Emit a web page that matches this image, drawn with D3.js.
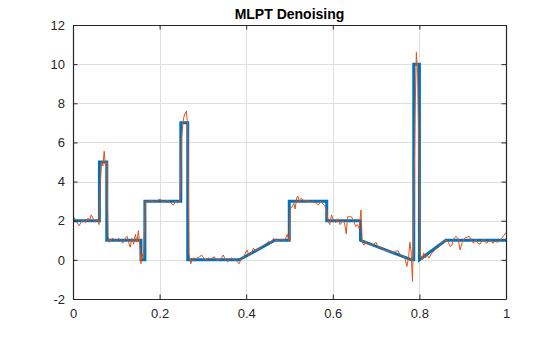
<!DOCTYPE html>
<html>
<head>
<meta charset="utf-8">
<script src="https://cdn.jsdelivr.net/npm/d3@7"></script>
<style>
  html, body { margin: 0; padding: 0; background: #fff; }
  svg { display: block; font-family: "Liberation Sans", Arial, Helvetica, sans-serif; }
</style>
</head>
<body>
<svg id="chart" width="560" height="337"></svg>
<script>
// ---------- data ----------
const title = "MLPT Denoising";
const xTicks = [0, 0.2, 0.4, 0.6, 0.8, 1];
const xTickLabels = ["0", "0.2", "0.4", "0.6", "0.8", "1"];
const yTicks = [-2, 0, 2, 4, 6, 8, 10, 12];
const yTickLabels = ["-2", "0", "2", "4", "6", "8", "10", "12"];

// denoised (MLPT) signal, breakpoints
const denoisedX = [0, 0.061, 0.061, 0.078, 0.078, 0.157, 0.157, 0.166, 0.166, 0.249, 0.249, 0.265, 0.265, 0.384, 0.466, 0.4995, 0.4995, 0.586, 0.586, 0.664, 0.664, 0.782, 0.787, 0.787, 0.800, 0.800, 0.861, 1.0];
const denoisedY = [2, 2, 5, 5, 1, 1, 0, 0, 3, 3, 7, 7, 0, 0, 1, 1, 3, 3, 2, 2, 1, 0, 0, 10, 10, 0, 1, 1];

// noisy signal
const noisyX = [
  0, 0.008, 0.014, 0.023, 0.029, 0.035, 0.038, 0.042, 0.05, 0.055, 0.058, 0.06,
  0.063, 0.066, 0.069, 0.072, 0.075, 0.078,
  0.081, 0.085, 0.09, 0.095, 0.1, 0.105, 0.11, 0.115, 0.12, 0.125, 0.129, 0.132, 0.136, 0.14, 0.144, 0.148, 0.151, 0.154, 0.157, 0.16, 0.163,
  0.167, 0.172, 0.178, 0.184, 0.19, 0.196, 0.202, 0.208, 0.214, 0.22, 0.226, 0.232, 0.237, 0.242, 0.247,
  0.251, 0.255, 0.259, 0.262, 0.265,
  0.268, 0.272, 0.277, 0.282, 0.287, 0.292, 0.297, 0.302, 0.307, 0.312, 0.317, 0.322, 0.327, 0.332, 0.337, 0.342, 0.347, 0.352, 0.357, 0.362, 0.367, 0.372, 0.377, 0.384,
  0.388, 0.393, 0.397, 0.402, 0.407, 0.412, 0.417, 0.422, 0.427, 0.432, 0.437, 0.442, 0.447, 0.452, 0.457, 0.463, 0.468, 0.474, 0.48, 0.486, 0.491, 0.495, 0.499,
  0.502, 0.506, 0.51, 0.513, 0.517, 0.52, 0.523, 0.527, 0.532, 0.538, 0.544, 0.55, 0.556, 0.562, 0.567, 0.572, 0.577, 0.582, 0.586,
  0.589, 0.593, 0.597, 0.602, 0.607, 0.612, 0.617, 0.622, 0.627, 0.631, 0.634, 0.638, 0.643, 0.648, 0.653, 0.657, 0.661, 0.665,
  0.668, 0.672, 0.676, 0.68, 0.685, 0.69, 0.695, 0.7, 0.705, 0.71, 0.715, 0.72, 0.725, 0.73, 0.735, 0.74, 0.745, 0.751, 0.756, 0.761, 0.766, 0.771, 0.775, 0.778, 0.781, 0.784,
  0.787, 0.79, 0.793, 0.796, 0.799, 0.802, 0.806, 0.81, 0.814, 0.818, 0.822,
  0.827, 0.832, 0.837, 0.842, 0.847, 0.852, 0.857, 0.862, 0.867, 0.871, 0.875, 0.879, 0.884, 0.889, 0.894, 0.899, 0.904, 0.91, 0.915, 0.92, 0.925, 0.93, 0.935, 0.94, 0.945, 0.95, 0.955, 0.96, 0.965, 0.97, 0.975, 0.98, 0.985, 0.99, 0.995, 1.0
];
const noisyY = [
  2.25, 1.96, 1.74, 2.08, 1.91, 2.13, 1.96, 2.3, 1.96, 2.05, 2.04, 1.8,
  3.8, 5.0, 4.8, 5.55, 4.8, 5.0,
  1.2, 0.9, 1.1, 1.05, 0.95, 1.1, 1.0, 0.85, 1.1, 1.2, 0.85, 0.65, 1.1, 0.8, 1.3, 0.9, 1.5, 0.8, -0.2, 0.3, 0.1,
  3.0, 2.95, 3.05, 3.0, 2.95, 3.05, 3.1, 2.95, 3.0, 3.05, 2.9, 2.8, 3.0, 2.9, 3.05,
  6.3, 7.2, 7.5, 7.6, 6.8,
  0.3, -0.2, 0.1, 0.05, 0.1, 0.15, 0.25, 0.1, 0.0, 0.1, 0.05, 0.1, 0.15, -0.05, 0.0, 0.05, 0.25, 0.0, -0.1, 0.05, 0.1, 0.0, -0.05, -0.2,
  0.05, 0.1, 0.3, 0.5, 0.2, 0.35, 0.6, 0.45, 0.55, 0.6, 0.7, 0.75, 0.85, 0.95, 0.85, 1.1, 1.0, 1.0, 1.05, 1.0, 1.1, 1.3, 0.95,
  2.6, 2.7, 2.9, 2.6, 3.2, 3.25, 2.9, 3.15, 3.05, 3.0, 3.0, 2.95, 2.95, 2.9, 2.8, 3.0, 2.85, 2.75, 2.5,
  2.0, 1.8, 2.3, 2.0, 1.9, 2.1, 1.8, 2.0, 1.9, 1.33, 2.2, 2.2, 2.2, 2.0, 1.7, 1.8, 1.6, 2.55,
  0.9, 0.75, 0.95, 0.8, 0.85, 0.75, 0.8, 0.9, 0.6, 0.65, 0.55, 0.5, 0.45, 0.45, 0.4, 0.35, 0.45, 0.46, 0.25, 0.2, 0.15, -0.34, 0.1, 0.9, 0.4, -1.1,
  2.0, 7.5, 10.6, 9.5, 5.0, 0.3, 0.0, 0.36, 0.1, 0.25, 0.1,
  0.3, 0.4, 0.55, 0.6, 0.75, 0.85, 0.95, 1.0, 0.9, 0.68, 0.75, 1.05, 1.2, 1.1, 0.51, 0.9, 1.1, 1.16, 1.2, 1.0, 0.85, 1.05, 0.85, 0.8, 1.0, 1.05, 0.85, 0.95, 1.0, 0.85, 0.95, 0.9, 0.95, 1.1, 1.25, 1.4
];

// ---------- layout ----------
const W = 560, H = 337;
const margin = { left: 73, right: 54, top: 25, bottom: 38 };
const x0 = margin.left, x1 = W - margin.right, y0 = H - margin.bottom, y1 = margin.top;

const svg = d3.select("#chart");
svg.append("rect").attr("width", W).attr("height", H).attr("fill", "#fff");

const x = d3.scaleLinear().domain([0, 1]).range([x0, x1]);
const y = d3.scaleLinear().domain([-2, 12]).range([y0, y1]);

// grid
const grid = svg.append("g").attr("stroke", "#dfdfdf").attr("stroke-width", 1);
xTicks.forEach(t => grid.append("line")
  .attr("x1", Math.round(x(t)) + 0.5).attr("x2", Math.round(x(t)) + 0.5)
  .attr("y1", y1).attr("y2", y0));
yTicks.forEach(t => grid.append("line")
  .attr("x1", x0).attr("x2", x1)
  .attr("y1", Math.round(y(t)) + 0.5).attr("y2", Math.round(y(t)) + 0.5));

// clip
svg.append("clipPath").attr("id", "clip")
  .append("rect").attr("x", x0).attr("y", y1).attr("width", x1 - x0).attr("height", y0 - y1);

const denoised = denoisedX.map((v, i) => [v, denoisedY[i]]);
const noisy = noisyX.map((v, i) => [v, noisyY[i]]);
const line = d3.line().x(d => x(d[0])).y(d => y(d[1]));

const plot = svg.append("g").attr("clip-path", "url(#clip)");
plot.append("path").datum(denoised).attr("d", line)
  .attr("fill", "none").attr("stroke", "#0072BD").attr("stroke-width", 3)
  .attr("stroke-linejoin", "miter");
plot.append("path").datum(noisy).attr("d", line)
  .attr("fill", "none").attr("stroke", "#D95319").attr("stroke-width", 1)
  .attr("stroke-linejoin", "round");

// axes
const axisColor = "#262626";
const tickLen = 4.5;
const xAxisB = d3.axisBottom(x).tickValues(xTicks).tickFormat((d, i) => xTickLabels[i]).tickSizeInner(-tickLen).tickSizeOuter(0).tickPadding(10);
const xAxisT = d3.axisTop(x).tickValues(xTicks).tickFormat("").tickSizeInner(-tickLen).tickSizeOuter(0);
const yAxisL = d3.axisLeft(y).tickValues(yTicks).tickFormat((d, i) => yTickLabels[i]).tickSizeInner(-tickLen).tickSizeOuter(0).tickPadding(8);
const yAxisR = d3.axisRight(y).tickValues(yTicks).tickFormat("").tickSizeInner(-tickLen).tickSizeOuter(0);

function style(g) {
  g.selectAll(".domain").attr("stroke", axisColor).attr("stroke-width", 1.2);
  g.selectAll(".tick line").attr("stroke", axisColor).attr("stroke-width", 1);
  g.selectAll(".tick text").attr("fill", axisColor).attr("font-size", 13)
    .attr("font-family", "'Liberation Sans', Arial, Helvetica, sans-serif");
}
svg.append("g").attr("transform", `translate(0,${y0})`).call(xAxisB).call(style);
svg.append("g").attr("transform", `translate(0,${y1})`).call(xAxisT).call(style);
svg.append("g").attr("transform", `translate(${x0},0)`).call(yAxisL).call(style);
svg.append("g").attr("transform", `translate(${x1},0)`).call(yAxisR).call(style);

// title
svg.append("text").attr("x", (x0 + x1) / 2).attr("y", 19)
  .attr("text-anchor", "middle").attr("font-size", 14).attr("font-weight", "bold")
  .attr("fill", "#000").text(title);
</script>
</body>
</html>
